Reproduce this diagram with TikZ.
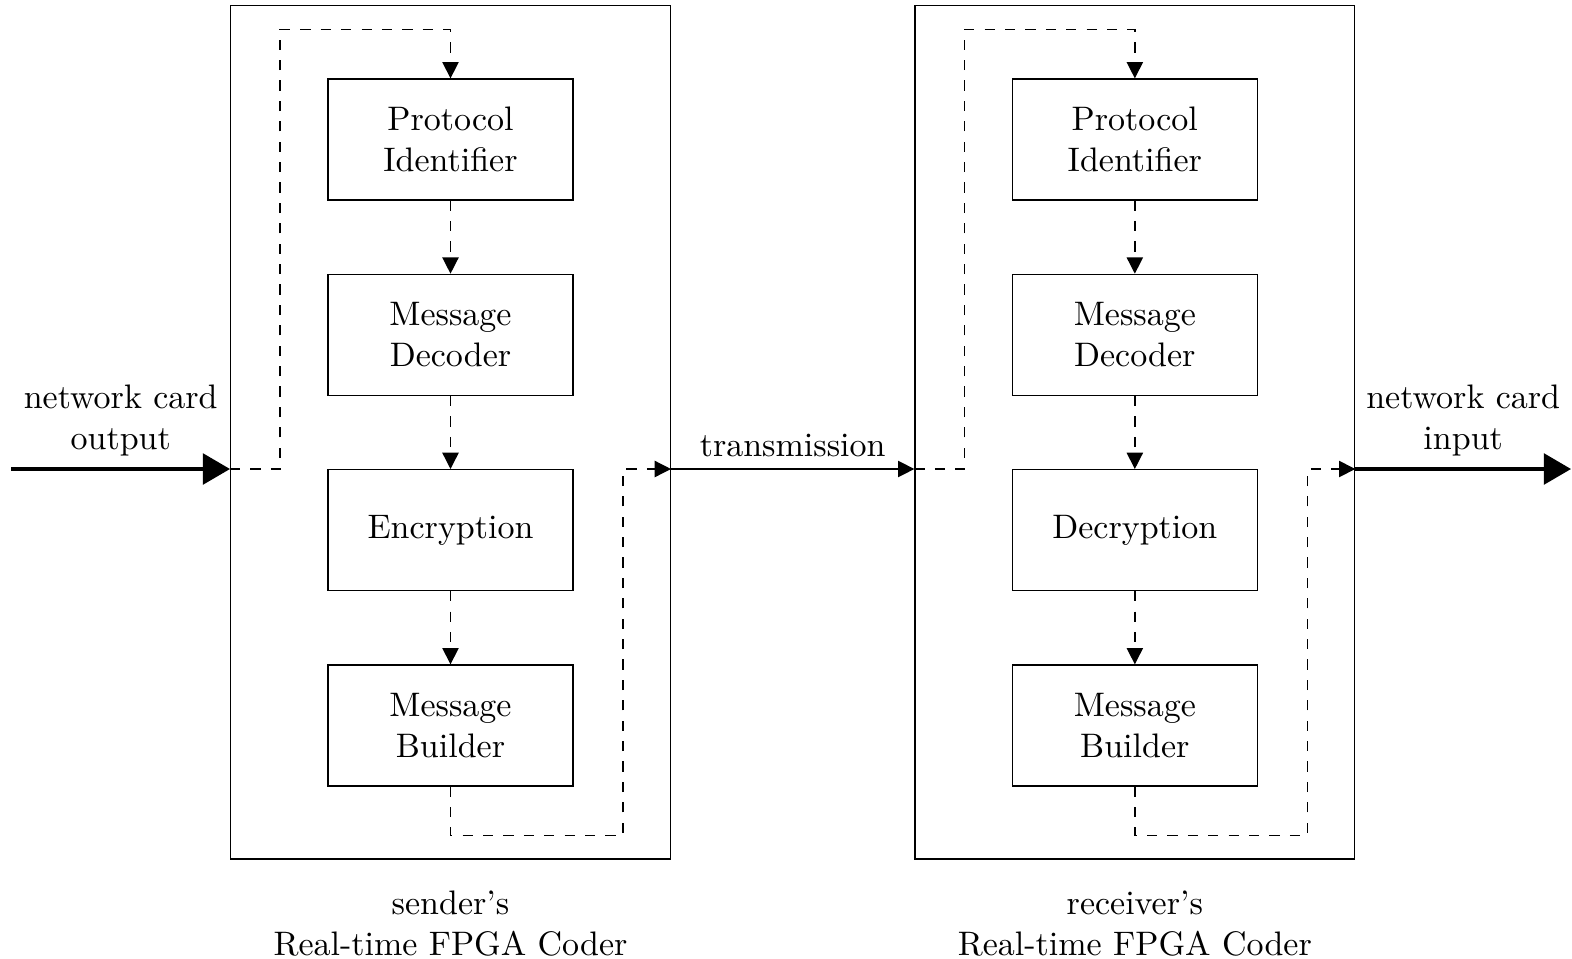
\documentclass[tikz,border=0pt]{standalone}
\usepackage{amsmath}
\usepackage{tikz}
\usetikzlibrary{arrows.meta,positioning,fit,calc}
\tikzset{
  %Define standard arrow tip
  >={Triangle[length=4.8pt,width=4.8pt]},
  %Define style for boxes
  blok/.style={
    rectangle,
    draw=black,
    align=center,
    minimum width=2.53cm,
    minimum height=1.25cm},
  % Define style for the coder frames
  coder/.style={
    rectangle,
    draw=black,
    inner xsep=1cm,
    inner ysep=0.75cm},
  % Define arrow styles
  pil/.style={
    ->,
    dashed},
  tyk/.style={
    -{Triangle[length=8pt,width=9pt]},
    line width=1.2pt}
}

\begin{document}
\begin{tikzpicture}[node distance=0.755cm]
  \useasboundingbox (-4.657,-8.471) rectangle (11.593,1.442);
  % sender
  \node[blok] (pid1) at (0,0) {Protocol\\Identifier};
  \node[blok, below=of pid1] (dec1) {Message\\Decoder};
  \node[blok, below=of dec1] (enc1) {Encryption};
  \node[blok, below=of enc1] (bld1) {Message\\Builder};
  \node[coder, fit=(pid1)(bld1)] (send) {};
  \node[below=0.2cm of send, align=center] (sendlbl) {sender's\\Real-time FPGA Coder};
  % receiver
  \node[blok, right=4.53cm of pid1] (pid2) {Protocol\\Identifier};
  \node[blok, below=of pid2] (dec2) {Message\\Decoder};
  \node[blok, below=of dec2] (enc2) {Decryption};
  \node[blok, below=of enc2] (bld2) {Message\\Builder};
  \node[coder, fit=(pid2)(bld2)] (recv) {};
  \node[below=0.2cm of recv, align=center] (recvlbl) {receiver's\\Real-time FPGA Coder};
  % ports
  \coordinate (in1) at (send.west |- enc1.north);
  \coordinate (out1) at (send.east |- enc1.north);
  \coordinate (in2) at (recv.west |- enc2.north);
  \coordinate (out2) at (recv.east |- enc2.north);
  \coordinate[left=2.26cm of in1] (src);
  \coordinate[right=2.23cm of out2] (dst);
  % outside connections
  \draw[tyk] (src) -- node[above, align=center] {network card\\output} (in1);
  \draw[->] (out1) -- node[above] {transmission} (in2);
  \draw[tyk] (out2) -- node[above, align=center] {network card\\input} (dst);
  % inside the coders
  \foreach \i in {1,2} {
    \draw[pil] (in\i) -- ++(0.517,0) |- ($(pid\i.north)+(0,0.507)$) -- (pid\i.north);
    \draw[pil] (pid\i) -- (dec\i);
    \draw[pil] (dec\i) -- (enc\i);
    \draw[pil] (enc\i) -- (bld\i);
  }
  \draw[pil] (bld1.south) -- ++(0,-0.507) -| ($(out1)+(-0.496,0)$) -- (out1);
  \draw[pil] (bld2.south) -- ++(0,-0.507) -| ($(out2)+(-0.496,0)$) -- (out2);
\end{tikzpicture}
\end{document}
